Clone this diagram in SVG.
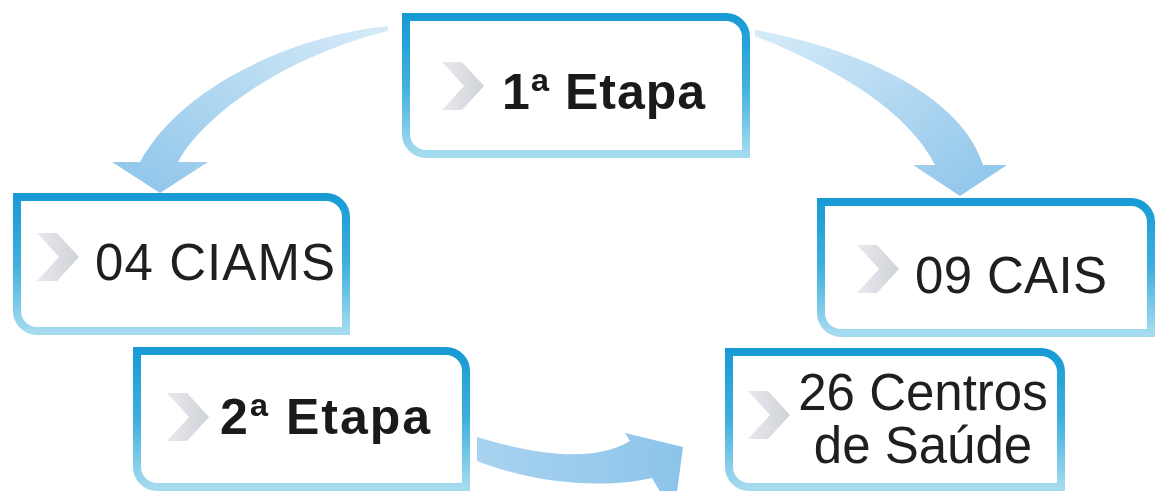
<svg xmlns="http://www.w3.org/2000/svg" width="1157" height="491" viewBox="0 0 1157 491">
  <defs>
    <style>
      .box { fill: #ffffff; stroke: url(#borderGrad); stroke-width: 8; stroke-linejoin: miter; }
      .bold { font-family: "Liberation Sans", Arial, sans-serif; font-weight: bold; font-size: 50px; fill: #1a1a1a; }
      .reg { font-family: "Liberation Sans", Arial, sans-serif; font-size: 51px; fill: #1f1f1f; }
      .chev { fill: url(#chevGrad); }
    </style>
    <linearGradient id="borderGrad" x1="0" y1="0" x2="0" y2="1">
      <stop offset="0" stop-color="#189bd5"/>
      <stop offset="0.5" stop-color="#3fb0de"/>
      <stop offset="1" stop-color="#a4dbef"/>
    </linearGradient>
    <linearGradient id="chevGrad" x1="0" y1="0" x2="1" y2="0">
      <stop offset="0" stop-color="#e8e9ee"/>
      <stop offset="1" stop-color="#cfd2d8"/>
    </linearGradient>
    <linearGradient id="arrowL" x1="1" y1="0" x2="0" y2="1">
      <stop offset="0" stop-color="#d6ebf8"/>
      <stop offset="1" stop-color="#8cc4ea"/>
    </linearGradient>
    <linearGradient id="arrowR" x1="0" y1="0" x2="1" y2="1">
      <stop offset="0" stop-color="#d6ebf8"/>
      <stop offset="1" stop-color="#8cc4ea"/>
    </linearGradient>
    <linearGradient id="arrowB" x1="0" y1="0" x2="1" y2="0">
      <stop offset="0" stop-color="#a9d3f0"/>
      <stop offset="1" stop-color="#8cc4ea"/>
    </linearGradient>
    <polygon id="chevron" points="0,0 20,0 42,24 20,48 0,48 22,24"/>
  </defs>
  <rect width="1157" height="491" fill="#ffffff"/>

  <g id="connectors">
    <path d="M 388,26 C 290,36 180,88 140,162 L 112,162 L 160,193 L 208,162 L 178,162 C 205,112 290,55 388,31 Z" fill="url(#arrowL)"/>
    <path d="M 755,30 C 865,50 962,98 983,165 L 1007,165 L 960,196 L 913,165 L 935,165 C 908,112 840,70 755,36 Z" fill="url(#arrowR)"/>
    <path d="M 477,437 C 540,456 595,462 630,441 L 625,433 L 683,447 L 674,515 L 652,478 C 600,490 530,482 477,461 Z" fill="url(#arrowB)"/>
  </g>

  <g id="node-etapa1">
    <path class="box" d="M 406,17 H 726 A 20 20 0 0 1 746,37 V 154 H 426 A 20 20 0 0 1 406,134 Z"/>
    <use href="#chevron" class="chev" x="442" y="62"/>
    <text class="bold" x="502" y="109" textLength="203" lengthAdjust="spacing">1ª Etapa</text>
  </g>

  <g id="node-ciams">
    <path class="box" d="M 17,197 H 326 A 20 20 0 0 1 346,217 V 331 H 37 A 20 20 0 0 1 17,311 Z"/>
    <use href="#chevron" class="chev" x="37" y="233"/>
    <text class="reg" x="95" y="280" textLength="240" lengthAdjust="spacing">04 CIAMS</text>
  </g>

  <g id="node-cais">
    <path class="box" d="M 821,202 H 1131 A 20 20 0 0 1 1151,222 V 333 H 841 A 20 20 0 0 1 821,313 Z"/>
    <use href="#chevron" class="chev" x="857" y="245"/>
    <text class="reg" x="915" y="293" textLength="192" lengthAdjust="spacing">09 CAIS</text>
  </g>

  <g id="node-etapa2">
    <path class="box" d="M 137,351 H 446 A 20 20 0 0 1 466,371 V 487 H 157 A 20 20 0 0 1 137,467 Z"/>
    <use href="#chevron" class="chev" x="167" y="393"/>
    <text class="bold" x="220" y="434" textLength="210" lengthAdjust="spacing">2ª Etapa</text>
  </g>

  <g id="node-centros">
    <path class="box" d="M 729,352 H 1041 A 20 20 0 0 1 1061,372 V 487 H 749 A 20 20 0 0 1 729,467 Z"/>
    <use href="#chevron" class="chev" x="748" y="391"/>
    <text class="reg" x="923" y="410" text-anchor="middle">26 Centros</text>
    <text class="reg" x="923" y="463" text-anchor="middle">de Saúde</text>
  </g>
</svg>
